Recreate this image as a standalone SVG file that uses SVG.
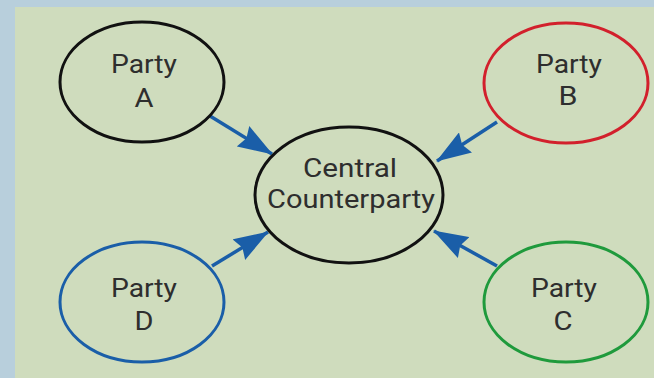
<svg xmlns="http://www.w3.org/2000/svg" width="654" height="378" viewBox="0 0 654 378">
<style>
.node{fill:none;stroke-width:3}
.lbl{font-family:Roboto,"Liberation Sans",Arial,sans-serif;font-size:25px;fill:#2e2e2e;text-anchor:middle}
.conn{stroke:#1a5ea8;stroke-width:3.5;fill:none;marker-end:url(#ah)}
</style>
<defs>
<marker id="ah" markerUnits="userSpaceOnUse" markerWidth="36" markerHeight="24" refX="34" refY="12" orient="auto">
<path d="M0,0 L35,12 L0,24 L4,12 z" fill="#1a5ea8"/>
</marker>
</defs>
<rect x="0" y="0" width="654" height="378" fill="#b8cfdc"/>
<rect x="15" y="7" width="639" height="371" fill="#cfdcbd"/>
<g id="connectors">
<line class="conn" x1="210" y1="116" x2="272" y2="154"/>
<line class="conn" x1="497" y1="122" x2="437" y2="161"/>
<line class="conn" x1="212" y1="266" x2="268" y2="232"/>
<line class="conn" x1="497" y1="266" x2="434" y2="231"/>
</g>
<g id="central">
<ellipse class="node" cx="349" cy="195" rx="94" ry="68" stroke="#111"/>
<text class="lbl" x="350" y="177" textLength="94" lengthAdjust="spacingAndGlyphs">Central</text>
<text class="lbl" x="351" y="208" textLength="168" lengthAdjust="spacingAndGlyphs">Counterparty</text>
</g>
<g id="partyA">
<ellipse class="node" cx="142" cy="82" rx="82" ry="60" stroke="#111"/>
<text class="lbl" x="144" y="73" textLength="66" lengthAdjust="spacingAndGlyphs">Party</text>
<text class="lbl" x="144" y="107" textLength="19" lengthAdjust="spacingAndGlyphs">A</text>
</g>
<g id="partyB">
<ellipse class="node" cx="566" cy="83" rx="82" ry="60" stroke="#d2202c"/>
<text class="lbl" x="569" y="73" textLength="66" lengthAdjust="spacingAndGlyphs">Party</text>
<text class="lbl" x="568" y="105" textLength="19" lengthAdjust="spacingAndGlyphs">B</text>
</g>
<g id="partyD">
<ellipse class="node" cx="142" cy="302" rx="82" ry="60" stroke="#1a5ea8"/>
<text class="lbl" x="144" y="297" textLength="66" lengthAdjust="spacingAndGlyphs">Party</text>
<text class="lbl" x="144" y="330" textLength="19" lengthAdjust="spacingAndGlyphs">D</text>
</g>
<g id="partyC">
<ellipse class="node" cx="566" cy="302" rx="82" ry="60" stroke="#1f9a3c"/>
<text class="lbl" x="564" y="297" textLength="66" lengthAdjust="spacingAndGlyphs">Party</text>
<text class="lbl" x="563" y="330" textLength="19" lengthAdjust="spacingAndGlyphs">C</text>
</g>
</svg>
